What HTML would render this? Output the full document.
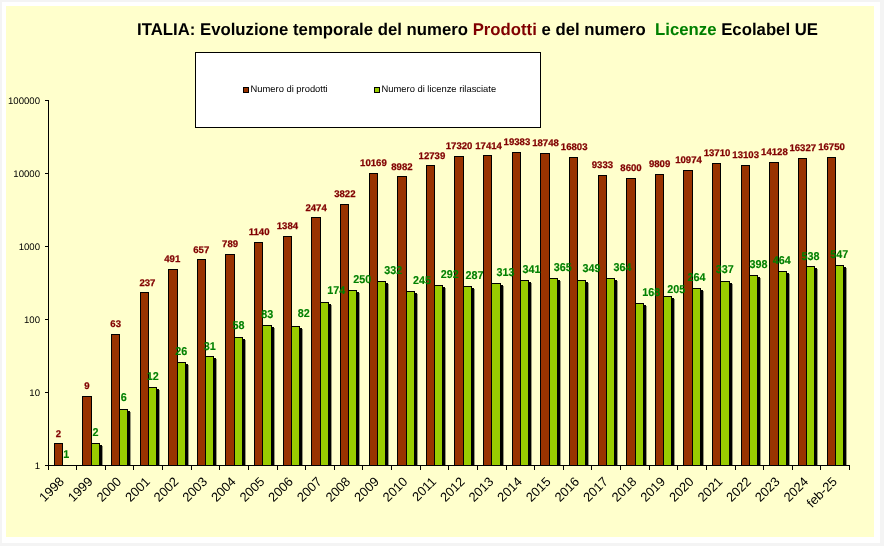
<!DOCTYPE html>
<html><head><meta charset="utf-8"><style>
html,body{margin:0;padding:0;background:#F4F4F4;width:884px;height:546px;overflow:hidden}
svg{display:block;font-family:"Liberation Sans", sans-serif;text-rendering:geometricPrecision;will-change:transform}
</style></head><body>
<svg width="884" height="546" viewBox="0 0 884 546">
<rect x="0" y="0" width="884" height="546" fill="#F4F4F4"/>
<rect x="2" y="2" width="878" height="541" fill="#FFFFFF"/>
<rect x="6" y="6" width="868" height="531" fill="#FFFFCC"/>

<g transform="translate(0,35) scale(1,1.06) translate(0,-35)">
<text x="137" y="35" font-size="16" font-weight="bold" fill="#000" style="white-space:pre" textLength="681" lengthAdjust="spacingAndGlyphs">ITALIA: Evoluzione temporale del numero <tspan fill="#800000">Prodotti</tspan> e del numero  <tspan fill="#008000">Licenze</tspan> Ecolabel UE</text>
</g>
<rect x="195.5" y="52.5" width="345" height="75" fill="#FFFFFF" stroke="#000" stroke-width="1"/>
<rect x="243.5" y="87.5" width="5" height="5" fill="#993300" stroke="#000" stroke-width="1"/>
<text x="250.5" y="92" font-size="9.4" fill="#000">Numero di prodotti</text>
<rect x="374.5" y="87.5" width="5" height="5" fill="#99CC00" stroke="#000" stroke-width="1"/>
<text x="381.5" y="92" font-size="9.4" fill="#000">Numero di licenze rilasciate</text>
<g fill="#000">
<rect x="48" y="100" width="1" height="366"/>
<rect x="45" y="465" width="805" height="1"/>
<rect x="45" y="100" width="3" height="1"/>
<rect x="45" y="173" width="3" height="1"/>
<rect x="45" y="246" width="3" height="1"/>
<rect x="45" y="319" width="3" height="1"/>
<rect x="45" y="392" width="3" height="1"/>
<rect x="45" y="465" width="3" height="1"/>
<rect x="48" y="466" width="1" height="4"/>
<rect x="76" y="466" width="1" height="4"/>
<rect x="105" y="466" width="1" height="4"/>
<rect x="133" y="466" width="1" height="4"/>
<rect x="162" y="466" width="1" height="4"/>
<rect x="191" y="466" width="1" height="4"/>
<rect x="219" y="466" width="1" height="4"/>
<rect x="248" y="466" width="1" height="4"/>
<rect x="277" y="466" width="1" height="4"/>
<rect x="305" y="466" width="1" height="4"/>
<rect x="334" y="466" width="1" height="4"/>
<rect x="362" y="466" width="1" height="4"/>
<rect x="391" y="466" width="1" height="4"/>
<rect x="420" y="466" width="1" height="4"/>
<rect x="448" y="466" width="1" height="4"/>
<rect x="477" y="466" width="1" height="4"/>
<rect x="506" y="466" width="1" height="4"/>
<rect x="534" y="466" width="1" height="4"/>
<rect x="563" y="466" width="1" height="4"/>
<rect x="591" y="466" width="1" height="4"/>
<rect x="620" y="466" width="1" height="4"/>
<rect x="649" y="466" width="1" height="4"/>
<rect x="677" y="466" width="1" height="4"/>
<rect x="706" y="466" width="1" height="4"/>
<rect x="735" y="466" width="1" height="4"/>
<rect x="763" y="466" width="1" height="4"/>
<rect x="792" y="466" width="1" height="4"/>
<rect x="820" y="466" width="1" height="4"/>
<rect x="849" y="466" width="1" height="4"/>
</g>
<text x="40" y="103.5" font-size="9.6" text-anchor="end" fill="#000">100000</text>
<text x="40" y="176.5" font-size="9.6" text-anchor="end" fill="#000">10000</text>
<text x="40" y="249.5" font-size="9.6" text-anchor="end" fill="#000">1000</text>
<text x="40" y="322.5" font-size="9.6" text-anchor="end" fill="#000">100</text>
<text x="40" y="395.5" font-size="9.6" text-anchor="end" fill="#000">10</text>
<text x="40" y="468.5" font-size="9.6" text-anchor="end" fill="#000">1</text>
<rect x="54.5" y="443.5" width="8" height="22" fill="#993300" stroke="#000" stroke-width="1"/>
<rect x="93" y="445" width="9" height="20" fill="#000"/>
<rect x="102" y="446" width="1" height="19" fill="#000" fill-opacity="0.4"/>
<rect x="82.5" y="396.5" width="9" height="69" fill="#993300" stroke="#000" stroke-width="1"/>
<rect x="91.5" y="443.5" width="8" height="22" fill="#99CC00" stroke="#000" stroke-width="1"/>
<rect x="121" y="411" width="9" height="54" fill="#000"/>
<rect x="130" y="412" width="1" height="53" fill="#000" fill-opacity="0.4"/>
<rect x="111.5" y="334.5" width="8" height="131" fill="#993300" stroke="#000" stroke-width="1"/>
<rect x="119.5" y="409.5" width="8" height="56" fill="#99CC00" stroke="#000" stroke-width="1"/>
<rect x="150" y="389" width="9" height="76" fill="#000"/>
<rect x="159" y="390" width="1" height="75" fill="#000" fill-opacity="0.4"/>
<rect x="140.5" y="292.5" width="8" height="173" fill="#993300" stroke="#000" stroke-width="1"/>
<rect x="148.5" y="387.5" width="8" height="78" fill="#99CC00" stroke="#000" stroke-width="1"/>
<rect x="179" y="364" width="9" height="101" fill="#000"/>
<rect x="188" y="365" width="1" height="100" fill="#000" fill-opacity="0.4"/>
<rect x="168.5" y="269.5" width="9" height="196" fill="#993300" stroke="#000" stroke-width="1"/>
<rect x="177.5" y="362.5" width="8" height="103" fill="#99CC00" stroke="#000" stroke-width="1"/>
<rect x="207" y="358" width="9" height="107" fill="#000"/>
<rect x="216" y="359" width="1" height="106" fill="#000" fill-opacity="0.4"/>
<rect x="197.5" y="259.5" width="8" height="206" fill="#993300" stroke="#000" stroke-width="1"/>
<rect x="205.5" y="356.5" width="8" height="109" fill="#99CC00" stroke="#000" stroke-width="1"/>
<rect x="236" y="339" width="9" height="126" fill="#000"/>
<rect x="245" y="340" width="1" height="125" fill="#000" fill-opacity="0.4"/>
<rect x="225.5" y="254.5" width="9" height="211" fill="#993300" stroke="#000" stroke-width="1"/>
<rect x="234.5" y="337.5" width="8" height="128" fill="#99CC00" stroke="#000" stroke-width="1"/>
<rect x="264" y="327" width="10" height="138" fill="#000"/>
<rect x="274" y="328" width="1" height="137" fill="#000" fill-opacity="0.4"/>
<rect x="254.5" y="242.5" width="8" height="223" fill="#993300" stroke="#000" stroke-width="1"/>
<rect x="262.5" y="325.5" width="9" height="140" fill="#99CC00" stroke="#000" stroke-width="1"/>
<rect x="293" y="328" width="9" height="137" fill="#000"/>
<rect x="302" y="329" width="1" height="136" fill="#000" fill-opacity="0.4"/>
<rect x="283.5" y="236.5" width="8" height="229" fill="#993300" stroke="#000" stroke-width="1"/>
<rect x="291.5" y="326.5" width="8" height="139" fill="#99CC00" stroke="#000" stroke-width="1"/>
<rect x="322" y="304" width="9" height="161" fill="#000"/>
<rect x="331" y="305" width="1" height="160" fill="#000" fill-opacity="0.4"/>
<rect x="311.5" y="217.5" width="9" height="248" fill="#993300" stroke="#000" stroke-width="1"/>
<rect x="320.5" y="302.5" width="8" height="163" fill="#99CC00" stroke="#000" stroke-width="1"/>
<rect x="350" y="292" width="9" height="173" fill="#000"/>
<rect x="359" y="293" width="1" height="172" fill="#000" fill-opacity="0.4"/>
<rect x="340.5" y="204.5" width="8" height="261" fill="#993300" stroke="#000" stroke-width="1"/>
<rect x="348.5" y="290.5" width="8" height="175" fill="#99CC00" stroke="#000" stroke-width="1"/>
<rect x="379" y="283" width="9" height="182" fill="#000"/>
<rect x="388" y="284" width="1" height="181" fill="#000" fill-opacity="0.4"/>
<rect x="369.5" y="173.5" width="8" height="292" fill="#993300" stroke="#000" stroke-width="1"/>
<rect x="377.5" y="281.5" width="8" height="184" fill="#99CC00" stroke="#000" stroke-width="1"/>
<rect x="408" y="293" width="9" height="172" fill="#000"/>
<rect x="417" y="294" width="1" height="171" fill="#000" fill-opacity="0.4"/>
<rect x="397.5" y="176.5" width="9" height="289" fill="#993300" stroke="#000" stroke-width="1"/>
<rect x="406.5" y="291.5" width="8" height="174" fill="#99CC00" stroke="#000" stroke-width="1"/>
<rect x="436" y="287" width="9" height="178" fill="#000"/>
<rect x="445" y="288" width="1" height="177" fill="#000" fill-opacity="0.4"/>
<rect x="426.5" y="165.5" width="8" height="300" fill="#993300" stroke="#000" stroke-width="1"/>
<rect x="434.5" y="285.5" width="8" height="180" fill="#99CC00" stroke="#000" stroke-width="1"/>
<rect x="465" y="288" width="9" height="177" fill="#000"/>
<rect x="474" y="289" width="1" height="176" fill="#000" fill-opacity="0.4"/>
<rect x="454.5" y="156.5" width="9" height="309" fill="#993300" stroke="#000" stroke-width="1"/>
<rect x="463.5" y="286.5" width="8" height="179" fill="#99CC00" stroke="#000" stroke-width="1"/>
<rect x="493" y="285" width="10" height="180" fill="#000"/>
<rect x="503" y="286" width="1" height="179" fill="#000" fill-opacity="0.4"/>
<rect x="483.5" y="155.5" width="8" height="310" fill="#993300" stroke="#000" stroke-width="1"/>
<rect x="491.5" y="283.5" width="9" height="182" fill="#99CC00" stroke="#000" stroke-width="1"/>
<rect x="522" y="282" width="9" height="183" fill="#000"/>
<rect x="531" y="283" width="1" height="182" fill="#000" fill-opacity="0.4"/>
<rect x="512.5" y="152.5" width="8" height="313" fill="#993300" stroke="#000" stroke-width="1"/>
<rect x="520.5" y="280.5" width="8" height="185" fill="#99CC00" stroke="#000" stroke-width="1"/>
<rect x="551" y="280" width="9" height="185" fill="#000"/>
<rect x="560" y="281" width="1" height="184" fill="#000" fill-opacity="0.4"/>
<rect x="540.5" y="153.5" width="9" height="312" fill="#993300" stroke="#000" stroke-width="1"/>
<rect x="549.5" y="278.5" width="8" height="187" fill="#99CC00" stroke="#000" stroke-width="1"/>
<rect x="579" y="282" width="9" height="183" fill="#000"/>
<rect x="588" y="283" width="1" height="182" fill="#000" fill-opacity="0.4"/>
<rect x="569.5" y="157.5" width="8" height="308" fill="#993300" stroke="#000" stroke-width="1"/>
<rect x="577.5" y="280.5" width="8" height="185" fill="#99CC00" stroke="#000" stroke-width="1"/>
<rect x="608" y="280" width="9" height="185" fill="#000"/>
<rect x="617" y="281" width="1" height="184" fill="#000" fill-opacity="0.4"/>
<rect x="598.5" y="175.5" width="8" height="290" fill="#993300" stroke="#000" stroke-width="1"/>
<rect x="606.5" y="278.5" width="8" height="187" fill="#99CC00" stroke="#000" stroke-width="1"/>
<rect x="637" y="305" width="9" height="160" fill="#000"/>
<rect x="646" y="306" width="1" height="159" fill="#000" fill-opacity="0.4"/>
<rect x="626.5" y="178.5" width="9" height="287" fill="#993300" stroke="#000" stroke-width="1"/>
<rect x="635.5" y="303.5" width="8" height="162" fill="#99CC00" stroke="#000" stroke-width="1"/>
<rect x="665" y="298" width="9" height="167" fill="#000"/>
<rect x="674" y="299" width="1" height="166" fill="#000" fill-opacity="0.4"/>
<rect x="655.5" y="174.5" width="8" height="291" fill="#993300" stroke="#000" stroke-width="1"/>
<rect x="663.5" y="296.5" width="8" height="169" fill="#99CC00" stroke="#000" stroke-width="1"/>
<rect x="694" y="290" width="9" height="175" fill="#000"/>
<rect x="703" y="291" width="1" height="174" fill="#000" fill-opacity="0.4"/>
<rect x="683.5" y="170.5" width="9" height="295" fill="#993300" stroke="#000" stroke-width="1"/>
<rect x="692.5" y="288.5" width="8" height="177" fill="#99CC00" stroke="#000" stroke-width="1"/>
<rect x="722" y="283" width="10" height="182" fill="#000"/>
<rect x="732" y="284" width="1" height="181" fill="#000" fill-opacity="0.4"/>
<rect x="712.5" y="163.5" width="8" height="302" fill="#993300" stroke="#000" stroke-width="1"/>
<rect x="720.5" y="281.5" width="9" height="184" fill="#99CC00" stroke="#000" stroke-width="1"/>
<rect x="751" y="277" width="9" height="188" fill="#000"/>
<rect x="760" y="278" width="1" height="187" fill="#000" fill-opacity="0.4"/>
<rect x="741.5" y="165.5" width="8" height="300" fill="#993300" stroke="#000" stroke-width="1"/>
<rect x="749.5" y="275.5" width="8" height="190" fill="#99CC00" stroke="#000" stroke-width="1"/>
<rect x="780" y="273" width="9" height="192" fill="#000"/>
<rect x="789" y="274" width="1" height="191" fill="#000" fill-opacity="0.4"/>
<rect x="769.5" y="162.5" width="9" height="303" fill="#993300" stroke="#000" stroke-width="1"/>
<rect x="778.5" y="271.5" width="8" height="194" fill="#99CC00" stroke="#000" stroke-width="1"/>
<rect x="808" y="268" width="9" height="197" fill="#000"/>
<rect x="817" y="269" width="1" height="196" fill="#000" fill-opacity="0.4"/>
<rect x="798.5" y="158.5" width="8" height="307" fill="#993300" stroke="#000" stroke-width="1"/>
<rect x="806.5" y="266.5" width="8" height="199" fill="#99CC00" stroke="#000" stroke-width="1"/>
<rect x="837" y="267" width="9" height="198" fill="#000"/>
<rect x="846" y="268" width="1" height="197" fill="#000" fill-opacity="0.4"/>
<rect x="827.5" y="157.5" width="8" height="308" fill="#993300" stroke="#000" stroke-width="1"/>
<rect x="835.5" y="265.5" width="8" height="200" fill="#99CC00" stroke="#000" stroke-width="1"/>
<g font-size="10.8" font-weight="bold" text-anchor="middle">
<text x="58.4" y="436.8" fill="#800000" stroke="#800000" stroke-width="0.25" font-size="9.6">2</text>
<text x="87.0" y="388.6" fill="#800000" stroke="#800000" stroke-width="0.25" font-size="9.6">9</text>
<text x="115.7" y="326.7" fill="#800000" stroke="#800000" stroke-width="0.25" font-size="9.6">63</text>
<text x="147.4" y="285.6" fill="#800000" stroke="#800000" stroke-width="0.25" font-size="9.6">237</text>
<text x="172.3" y="261.9" fill="#800000" stroke="#800000" stroke-width="0.25" font-size="9.6">491</text>
<text x="201.3" y="252.9" fill="#800000" stroke="#800000" stroke-width="0.25" font-size="9.6">657</text>
<text x="230.1" y="246.7" fill="#800000" stroke="#800000" stroke-width="0.25" font-size="9.6">789</text>
<text x="259.1" y="234.6" fill="#800000" stroke="#800000" stroke-width="0.25" font-size="9.6">1140</text>
<text x="287.4" y="228.9" fill="#800000" stroke="#800000" stroke-width="0.25" font-size="9.6">1384</text>
<text x="316.1" y="211.2" fill="#800000" stroke="#800000" stroke-width="0.25" font-size="9.6">2474</text>
<text x="344.8" y="196.9" fill="#800000" stroke="#800000" stroke-width="0.25" font-size="9.6">3822</text>
<text x="373.4" y="166.2" fill="#800000" stroke="#800000" stroke-width="0.25" font-size="9.6">10169</text>
<text x="401.9" y="170.2" fill="#800000" stroke="#800000" stroke-width="0.25" font-size="9.6">8982</text>
<text x="431.9" y="159.0" fill="#800000" stroke="#800000" stroke-width="0.25" font-size="9.6">12739</text>
<text x="459.1" y="148.9" fill="#800000" stroke="#800000" stroke-width="0.25" font-size="9.6">17320</text>
<text x="488.6" y="148.7" fill="#800000" stroke="#800000" stroke-width="0.25" font-size="9.6">17414</text>
<text x="516.9" y="145.0" fill="#800000" stroke="#800000" stroke-width="0.25" font-size="9.6">19383</text>
<text x="545.5" y="145.7" fill="#800000" stroke="#800000" stroke-width="0.25" font-size="9.6">18748</text>
<text x="574.2" y="149.8" fill="#800000" stroke="#800000" stroke-width="0.25" font-size="9.6">16803</text>
<text x="602.4" y="167.6" fill="#800000" stroke="#800000" stroke-width="0.25" font-size="9.6">9333</text>
<text x="631.0" y="170.7" fill="#800000" stroke="#800000" stroke-width="0.25" font-size="9.6">8600</text>
<text x="659.6" y="166.9" fill="#800000" stroke="#800000" stroke-width="0.25" font-size="9.6">9809</text>
<text x="688.5" y="162.9" fill="#800000" stroke="#800000" stroke-width="0.25" font-size="9.6">10974</text>
<text x="717.0" y="155.5" fill="#800000" stroke="#800000" stroke-width="0.25" font-size="9.6">13710</text>
<text x="745.7" y="157.9" fill="#800000" stroke="#800000" stroke-width="0.25" font-size="9.6">13103</text>
<text x="774.4" y="154.6" fill="#800000" stroke="#800000" stroke-width="0.25" font-size="9.6">14128</text>
<text x="802.8" y="150.6" fill="#800000" stroke="#800000" stroke-width="0.25" font-size="9.6">16327</text>
<text x="831.5" y="149.5" fill="#800000" stroke="#800000" stroke-width="0.25" font-size="9.6">16750</text>
<text transform="translate(66.35,458.40) scale(1,1.05)" x="0" y="0" fill="#008000" stroke="#008000" stroke-width="0.12">1</text>
<text transform="translate(95.45,436.40) scale(1,1.05)" x="0" y="0" fill="#008000" stroke="#008000" stroke-width="0.12">2</text>
<text transform="translate(123.80,401.20) scale(1,1.05)" x="0" y="0" fill="#008000" stroke="#008000" stroke-width="0.12">6</text>
<text transform="translate(152.70,379.60) scale(1,1.05)" x="0" y="0" fill="#008000" stroke="#008000" stroke-width="0.12">12</text>
<text transform="translate(181.30,355.40) scale(1,1.05)" x="0" y="0" fill="#008000" stroke="#008000" stroke-width="0.12">26</text>
<text transform="translate(209.70,349.50) scale(1,1.05)" x="0" y="0" fill="#008000" stroke="#008000" stroke-width="0.12">31</text>
<text transform="translate(238.55,329.30) scale(1,1.05)" x="0" y="0" fill="#008000" stroke="#008000" stroke-width="0.12">58</text>
<text transform="translate(267.15,318.10) scale(1,1.05)" x="0" y="0" fill="#008000" stroke="#008000" stroke-width="0.12">83</text>
<text transform="translate(303.75,317.30) scale(1,1.05)" x="0" y="0" fill="#008000" stroke="#008000" stroke-width="0.12">82</text>
<text transform="translate(336.30,294.30) scale(1,1.05)" x="0" y="0" fill="#008000" stroke="#008000" stroke-width="0.12">174</text>
<text transform="translate(362.30,283.20) scale(1,1.05)" x="0" y="0" fill="#008000" stroke="#008000" stroke-width="0.12">250</text>
<text transform="translate(393.35,274.40) scale(1,1.05)" x="0" y="0" fill="#008000" stroke="#008000" stroke-width="0.12">332</text>
<text transform="translate(422.05,284.10) scale(1,1.05)" x="0" y="0" fill="#008000" stroke="#008000" stroke-width="0.12">245</text>
<text transform="translate(449.65,278.20) scale(1,1.05)" x="0" y="0" fill="#008000" stroke="#008000" stroke-width="0.12">292</text>
<text transform="translate(474.45,279.00) scale(1,1.05)" x="0" y="0" fill="#008000" stroke="#008000" stroke-width="0.12">287</text>
<text transform="translate(505.55,276.20) scale(1,1.05)" x="0" y="0" fill="#008000" stroke="#008000" stroke-width="0.12">313</text>
<text transform="translate(531.40,273.40) scale(1,1.05)" x="0" y="0" fill="#008000" stroke="#008000" stroke-width="0.12">341</text>
<text transform="translate(562.75,271.30) scale(1,1.05)" x="0" y="0" fill="#008000" stroke="#008000" stroke-width="0.12">365</text>
<text transform="translate(591.50,272.10) scale(1,1.05)" x="0" y="0" fill="#008000" stroke="#008000" stroke-width="0.12">349</text>
<text transform="translate(622.50,271.20) scale(1,1.05)" x="0" y="0" fill="#008000" stroke="#008000" stroke-width="0.12">364</text>
<text transform="translate(651.15,296.30) scale(1,1.05)" x="0" y="0" fill="#008000" stroke="#008000" stroke-width="0.12">168</text>
<text transform="translate(676.15,292.50) scale(1,1.05)" x="0" y="0" fill="#008000" stroke="#008000" stroke-width="0.12">205</text>
<text transform="translate(696.45,281.40) scale(1,1.05)" x="0" y="0" fill="#008000" stroke="#008000" stroke-width="0.12">264</text>
<text transform="translate(724.85,273.40) scale(1,1.05)" x="0" y="0" fill="#008000" stroke="#008000" stroke-width="0.12">337</text>
<text transform="translate(758.50,268.00) scale(1,1.05)" x="0" y="0" fill="#008000" stroke="#008000" stroke-width="0.12">398</text>
<text transform="translate(781.75,263.50) scale(1,1.05)" x="0" y="0" fill="#008000" stroke="#008000" stroke-width="0.12">464</text>
<text transform="translate(810.60,259.50) scale(1,1.05)" x="0" y="0" fill="#008000" stroke="#008000" stroke-width="0.12">538</text>
<text transform="translate(839.30,258.30) scale(1,1.05)" x="0" y="0" fill="#008000" stroke="#008000" stroke-width="0.12">547</text>
</g>
<g font-size="12.9" text-anchor="end" fill="#000">
<text transform="translate(64.9,482.3) rotate(-45)">1998</text>
<text transform="translate(93.5,482.3) rotate(-45)">1999</text>
<text transform="translate(122.2,482.3) rotate(-45)">2000</text>
<text transform="translate(150.8,482.3) rotate(-45)">2001</text>
<text transform="translate(179.4,482.3) rotate(-45)">2002</text>
<text transform="translate(208.0,482.3) rotate(-45)">2003</text>
<text transform="translate(236.7,482.3) rotate(-45)">2004</text>
<text transform="translate(265.3,482.3) rotate(-45)">2005</text>
<text transform="translate(293.9,482.3) rotate(-45)">2006</text>
<text transform="translate(322.5,482.3) rotate(-45)">2007</text>
<text transform="translate(351.2,482.3) rotate(-45)">2008</text>
<text transform="translate(379.8,482.3) rotate(-45)">2009</text>
<text transform="translate(408.4,482.3) rotate(-45)">2010</text>
<text transform="translate(437.0,482.3) rotate(-45)">2011</text>
<text transform="translate(465.7,482.3) rotate(-45)">2012</text>
<text transform="translate(494.3,482.3) rotate(-45)">2013</text>
<text transform="translate(522.9,482.3) rotate(-45)">2014</text>
<text transform="translate(551.5,482.3) rotate(-45)">2015</text>
<text transform="translate(580.2,482.3) rotate(-45)">2016</text>
<text transform="translate(608.8,482.3) rotate(-45)">2017</text>
<text transform="translate(637.4,482.3) rotate(-45)">2018</text>
<text transform="translate(666.0,482.3) rotate(-45)">2019</text>
<text transform="translate(694.7,482.3) rotate(-45)">2020</text>
<text transform="translate(723.3,482.3) rotate(-45)">2021</text>
<text transform="translate(751.9,482.3) rotate(-45)">2022</text>
<text transform="translate(780.5,482.3) rotate(-45)">2023</text>
<text transform="translate(809.2,482.3) rotate(-45)">2024</text>
<text transform="translate(837.8,482.3) rotate(-45)">feb-25</text>
</g>
</svg></body></html>
